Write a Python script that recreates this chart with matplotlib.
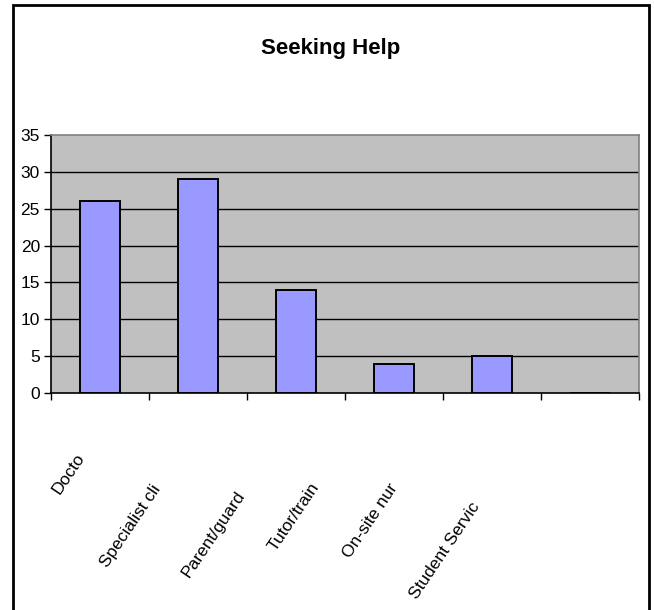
import matplotlib.pyplot as plt
from matplotlib.patches import Rectangle
from matplotlib.transforms import blended_transform_factory

categories = ['Docto', 'Specialist cli', 'Parent/guard', 'Tutor/train',
              'On-site nur', 'Student Servic']
counts = [26, 29, 14, 4, 5, 0]
yticks = [0, 5, 10, 15, 20, 25, 30, 35]

# where each slanted label ends (x in category units, y in figure fraction)
label_x = [-0.19, 0.59, 1.44, 2.20, 3.00, 3.84]
label_y = [0.254, 0.202, 0.192, 0.207, 0.205, 0.175]

plt.rcParams['font.family'] = ['Liberation Sans', 'DejaVu Sans']

fig = plt.figure(figsize=(6.54, 6.10), dpi=100)
ax = fig.add_axes([0.078, 0.3557, 0.899, 0.423])
ax.set_facecolor('#C0C0C0')

x = list(range(len(categories)))
ax.bar(x, counts, width=0.41, color='#9999FF', edgecolor='black', linewidth=1.4, zorder=3)

ax.set_xlim(-0.5, len(categories) - 0.5)
ax.set_ylim(0, 35)
ax.set_yticks(yticks)
ax.set_yticklabels([str(v) for v in yticks], fontsize=12.5)
for v in yticks[1:-1]:
    ax.axhline(v, color='black', linewidth=1.0, zorder=1)

# tick marks sit on the category boundaries, labels are drawn separately
ax.set_xticks([i - 0.5 for i in range(len(categories) + 1)])
ax.set_xticklabels([])
ax.tick_params(axis='x', direction='out', length=5, width=1, color='black')
ax.tick_params(axis='y', direction='out', length=5, width=1, color='black', pad=3)

ax.spines['left'].set_color('black')
ax.spines['bottom'].set_color('black')
ax.spines['top'].set_color('#808080')
ax.spines['right'].set_color('#808080')
for s in ax.spines.values():
    s.set_linewidth(1.2)

trans = blended_transform_factory(ax.transData, fig.transFigure)
for lx, ly, name in zip(label_x, label_y, categories):
    ax.text(lx, ly, name, transform=trans, rotation=56, rotation_mode='anchor',
            ha='right', va='center', fontsize=12.5, clip_on=False)

fig.text(0.506, 0.921, 'Seeking Help', ha='center', va='center',
         fontsize=16, fontweight='bold')

# outer chart frame, open at the bottom edge
fig.patches.append(Rectangle((13 / 654, -0.05), (649 - 13) / 654, 1.05 - 5 / 610,
                             transform=fig.transFigure, fill=False,
                             edgecolor='black', linewidth=2))

fig.savefig('out.png', dpi=100)
